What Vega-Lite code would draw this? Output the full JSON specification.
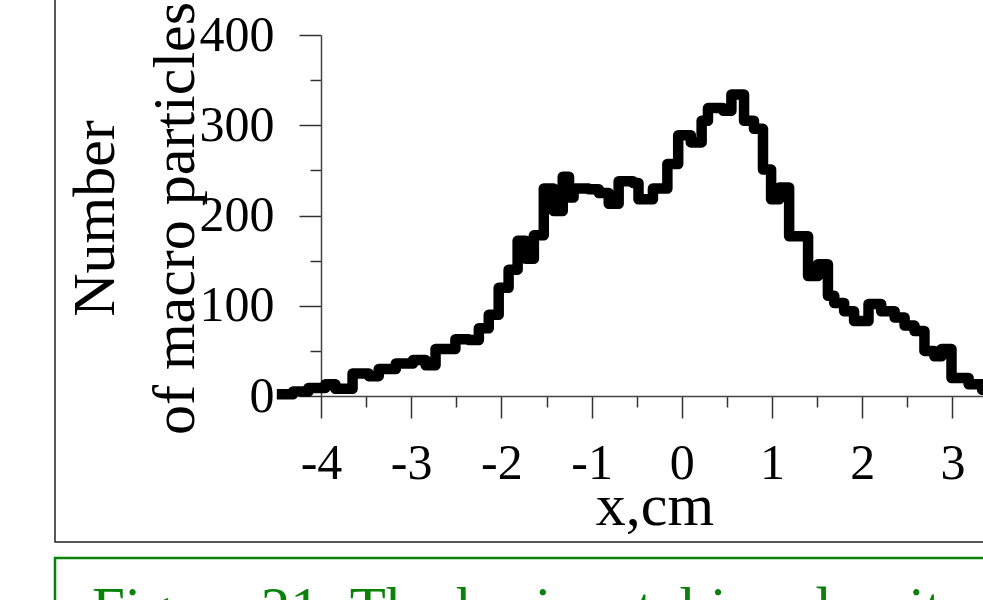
{
  "$schema": "https://vega.github.io/schema/vega-lite/v6.json",
  "autosize": {"type": "pad"},
  "padding": {"left": 53, "top": -40, "right": 0, "bottom": 0},
  "background": "white",
  "bounds": "flush",
  "spacing": 16,
  "config": {"font": "Liberation Serif"},
  "vconcat": [
    {
      "width": 960,
      "height": 581,
      "view": {"stroke": "#222222", "strokeWidth": 1.5, "fill": "white"},
      "data": {
        "values": [
          {"x": -4.49, "n": 2}, {"x": -4.31, "n": 5}, {"x": -4.14, "n": 9}, {"x": -3.95, "n": 13},
          {"x": -3.84, "n": 8}, {"x": -3.65, "n": 25}, {"x": -3.47, "n": 22}, {"x": -3.36, "n": 30},
          {"x": -3.17, "n": 36}, {"x": -2.98, "n": 40}, {"x": -2.84, "n": 34}, {"x": -2.73, "n": 52},
          {"x": -2.51, "n": 63}, {"x": -2.36, "n": 62}, {"x": -2.25, "n": 75}, {"x": -2.14, "n": 90},
          {"x": -2.03, "n": 120}, {"x": -1.92, "n": 140}, {"x": -1.82, "n": 172}, {"x": -1.73, "n": 152},
          {"x": -1.64, "n": 178}, {"x": -1.53, "n": 230}, {"x": -1.42, "n": 205}, {"x": -1.32, "n": 243},
          {"x": -1.25, "n": 220}, {"x": -1.2, "n": 230}, {"x": -1.03, "n": 229}, {"x": -0.92, "n": 225},
          {"x": -0.81, "n": 213}, {"x": -0.7, "n": 238}, {"x": -0.54, "n": 236}, {"x": -0.48, "n": 218},
          {"x": -0.32, "n": 230}, {"x": -0.16, "n": 257}, {"x": -0.04, "n": 289}, {"x": 0.1, "n": 281},
          {"x": 0.22, "n": 305}, {"x": 0.29, "n": 319}, {"x": 0.46, "n": 316}, {"x": 0.55, "n": 334},
          {"x": 0.69, "n": 305}, {"x": 0.8, "n": 296}, {"x": 0.9, "n": 251}, {"x": 0.99, "n": 218},
          {"x": 1.08, "n": 231}, {"x": 1.19, "n": 177}, {"x": 1.4, "n": 133}, {"x": 1.51, "n": 146},
          {"x": 1.62, "n": 111}, {"x": 1.69, "n": 103}, {"x": 1.8, "n": 94}, {"x": 1.91, "n": 83},
          {"x": 2.07, "n": 102}, {"x": 2.21, "n": 94}, {"x": 2.36, "n": 87}, {"x": 2.47, "n": 78},
          {"x": 2.58, "n": 72}, {"x": 2.69, "n": 50}, {"x": 2.8, "n": 44}, {"x": 2.88, "n": 52},
          {"x": 2.99, "n": 20}, {"x": 3.18, "n": 13}, {"x": 3.33, "n": 7}, {"x": 3.47, "n": 4},
          {"x": 3.7, "n": 4}
        ]
      },
      "mark": {"type": "line", "interpolate": "step-after", "color": "black", "strokeWidth": 10.5, "strokeJoin": "round", "clip": false},
      "encoding": {
        "x": {
          "field": "x", "type": "quantitative",
          "scale": {"domain": [-4, 4], "range": [266, 987.6], "nice": false, "zero": false},
          "axis": {
            "orient": "bottom", "offset": -146, "grid": false,
            "values": [-4, -3.5, -3, -2.5, -2, -1.5, -1, -0.5, 0, 0.5, 1, 1.5, 2, 2.5, 3, 3.5, 4],
            "tickSize": {"condition": {"test": "datum.value % 1 !== 0", "value": 11}, "value": 22},
            "tickColor": "#333333", "tickWidth": 1.5,
            "domainColor": "#444444", "domainWidth": 1.5,
            "labelExpr": "datum.value % 1 === 0 ? '' + datum.value : ''",
            "labelFont": "Liberation Serif", "labelFontSize": 50, "labelColor": "black",
            "labelPadding": 20, "labelFlush": false, "labelOverlap": false,
            "title": "x,cm", "titleFont": "Liberation Serif", "titleFontSize": 60, "titleFontWeight": "normal",
            "titleColor": "black", "titleX": 599.5, "titleY": 128, "titleBaseline": "alphabetic", "titleAlign": "center"
          }
        },
        "y": {
          "field": "n", "type": "quantitative",
          "scale": {"domain": [0, 400], "range": [435, 74], "nice": false, "zero": false},
          "axis": {
            "orient": "left", "offset": -266, "grid": false,
            "values": [0, 50, 100, 150, 200, 250, 300, 350, 400],
            "tickSize": {"condition": {"test": "datum.value % 100 !== 0", "value": 11}, "value": 22},
            "tickColor": "#333333", "tickWidth": 1.5,
            "domainColor": "#444444", "domainWidth": 1.5,
            "labelExpr": "datum.value % 100 === 0 ? '' + datum.value : ''",
            "labelFont": "Liberation Serif", "labelFontSize": 50, "labelColor": "black",
            "labelPadding": 25, "labelFlush": false, "labelOverlap": false,
            "title": ["Number", "of macro particles"], "titleFont": "Liberation Serif", "titleFontSize": 60,
            "titleFontWeight": "normal", "titleColor": "black", "titleAngle": 270, "titleAlign": "center",
            "titleBaseline": "alphabetic", "titleLineHeight": 80, "titleX": -208, "titleY": 257
          }
        }
      }
    },
    {
      "width": 960,
      "height": 200,
      "view": {"stroke": "#0a820a", "strokeWidth": 2.5, "fill": "white"},
      "title": {
        "text": "Figure 21: The horizontal ion density",
        "orient": "top", "anchor": "start", "frame": "group", "offset": -66, "dx": 37, "dy": 63,
        "baseline": "alphabetic", "font": "Liberation Serif", "fontSize": 59, "fontWeight": "normal", "color": "#0a820a"
      },
      "data": {"values": []},
      "mark": "point"
    }
  ]
}
